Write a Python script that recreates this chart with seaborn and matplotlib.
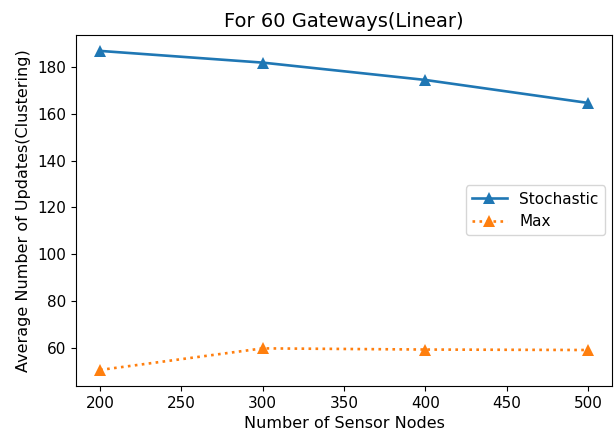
import matplotlib
matplotlib.use("Agg")
import matplotlib.pyplot as plt
import seaborn as sns
import pandas as pd

nodes = [200, 300, 400, 500]
stochastic = [186.8, 181.8, 174.4, 164.6]
max_vals = [50.6, 59.8, 59.3, 59.1]

df = pd.DataFrame({
    "nodes": nodes * 2,
    "updates": stochastic + max_vals,
    "method": ["Stochastic"] * len(nodes) + ["Max"] * len(nodes),
})

fig, ax = plt.subplots(figsize=(6.16, 4.37), dpi=100)
fig.subplots_adjust(left=0.123, right=0.994, top=0.92, bottom=0.117)

palette = {"Stochastic": "#1f77b4", "Max": "#ff7f0e"}
styles = {"Stochastic": "-", "Max": ":"}
for name in ["Stochastic", "Max"]:
    sub = df[df["method"] == name]
    sns.lineplot(data=sub, x="nodes", y="updates", ax=ax, color=palette[name],
                 linestyle=styles[name], marker="^", markersize=9,
                 markeredgewidth=0, linewidth=1.9, label=name)

ax.set_xticks([200, 250, 300, 350, 400, 450, 500])
ax.tick_params(labelsize=11)
ax.set_title("For 60 Gateways(Linear)", fontsize=14)
ax.set_xlabel("Number of Sensor Nodes", fontsize=11.5)
ax.set_ylabel("Average Number of Updates(Clustering)", fontsize=11.5)
ax.legend(loc="center right", fontsize=11, handlelength=2.3)

fig.savefig("out.png", dpi=100)
